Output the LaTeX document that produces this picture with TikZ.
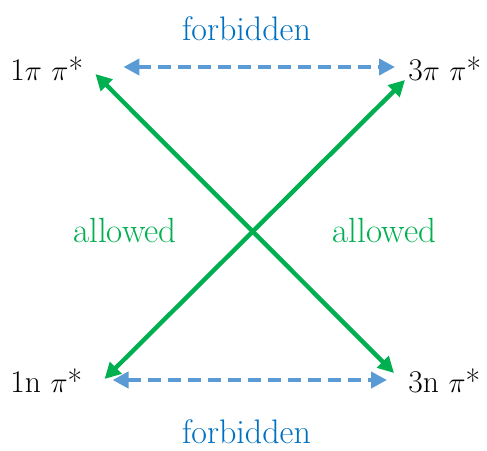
\documentclass[tikz,border=0pt]{standalone}
\usepackage{xcolor}
\usepackage{tikz}
\usetikzlibrary{arrows.meta}
\definecolor{textblue}{RGB}{0,112,192}
\definecolor{lineblue}{RGB}{91,155,213}
\definecolor{okgreen}{RGB}{0,176,80}

\begin{document}
\begin{tikzpicture}[
    x=0.5pt, y=-0.5pt,
    state/.style={inner sep=0pt, font=\fontsize{15.8}{19}\selectfont},
    forbidtext/.style={inner sep=0pt, font=\fontsize{17}{20}\selectfont, text=textblue},
    allowtext/.style={inner sep=0pt, font=\fontsize{17.5}{20}\selectfont, text=okgreen},
    forbid/.style={{Triangle[length=8pt,width=8pt]}-{Triangle[length=8pt,width=8pt]}, draw=lineblue, line width=2.2pt, dash pattern=on 6.5pt off 3.5pt},
    allow/.style={{Triangle[length=8pt,width=8pt]}-{Triangle[length=8pt,width=8pt]}, draw=okgreen, line width=2.2pt}
]
\useasboundingbox (0,0) rectangle (487,450);

\node[state,anchor=base west] (pp1) at (10,80) {1$\pi$ $\pi$*};
\node[state,anchor=base west] (pp3) at (408,80) {3$\pi$ $\pi$*};
\node[state,anchor=base west] (np1) at (10,392) {1n $\pi$*};
\node[state,anchor=base west] (np3) at (408,392) {3n $\pi$*};

\node[forbidtext,anchor=base] (topforbid) at (246.5,40) {forbidden};
\node[forbidtext,anchor=base] (botforbid) at (246.5,443) {forbidden};
\node[allowtext,anchor=base] (leftallow) at (125,242) {allowed};
\node[allowtext,anchor=base] (rightallow) at (384.5,242) {allowed};

\draw[forbid] ([xshift=20pt,yshift=6.5pt]pp1.base east) -- ([xshift=-6.5pt,yshift=6.5pt]pp3.base west);
\draw[forbid] ([xshift=15pt,yshift=6pt]np1.base east) -- ([xshift=-10.5pt,yshift=6pt]np3.base west);
\draw[allow] ([xshift=6pt,yshift=3pt]pp1.base east) -- ([xshift=-7pt,yshift=9.5pt]np3.base west);
\draw[allow] ([xshift=11pt,yshift=6.5pt]np1.base east) -- ([xshift=-1.5pt]pp3.base west);
\end{tikzpicture}
\end{document}
